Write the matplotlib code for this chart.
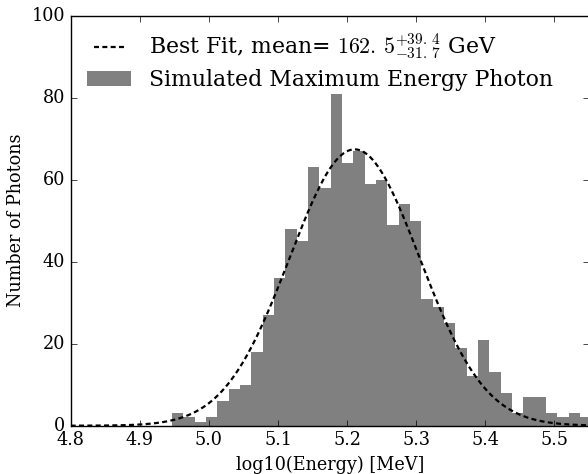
import matplotlib
matplotlib.use("Agg")
import matplotlib.pyplot as plt
import numpy as np

# histogram of the simulated maximum energy photon (log10 of energy in MeV)
bin_start = 4.9466
bin_width = 0.0164
counts = [3, 2, 1, 2, 6, 9, 10, 18, 27, 36, 48, 45, 63, 58, 81, 64, 67, 59,
          60, 49, 54, 50, 31, 29, 25, 19, 12, 21, 13, 8, 3, 7, 7, 3, 2, 3, 2]

# gaussian best fit (log10 MeV)
fit_mean = 5.2109
fit_sigma = 0.0942
fit_amp = 67.4

plt.style.use('classic')
plt.rcParams['font.family'] = 'serif'
plt.rcParams['font.serif'] = ['DejaVu Serif']
plt.rcParams['mathtext.fontset'] = 'cm'
plt.rcParams['font.size'] = 12.7

fig = plt.figure(figsize=(5.88, 4.74), dpi=100)
ax = fig.add_axes([0.1202, 0.1019, 0.8815, 0.865])

edges = bin_start + bin_width * np.arange(len(counts) + 1)
hist = ax.hist(edges[:-1], bins=edges, weights=counts, histtype='stepfilled',
               color='gray', edgecolor='none',
               label='Simulated Maximum Energy Photon')

x = np.linspace(4.8, 5.55, 500)
y = fit_amp * np.exp(-0.5 * ((x - fit_mean) / fit_sigma) ** 2)
fit_line, = ax.plot(x, y, color='black', lw=1.6, dashes=(3.6, 2.4),
                    label=r'Best Fit, mean= $162.\,5^{+39.\,4}_{-31.\,7}$ GeV')

ax.set_xlim(4.8, 5.55)
ax.set_ylim(0, 100)
ax.set_xticks(np.arange(4.8, 5.51, 0.1))
ax.set_yticks([0, 20, 40, 60, 80, 100])
ax.set_xlabel('log10(Energy) [MeV]')
ax.set_ylabel('Number of Photons')

handles, labels = ax.get_legend_handles_labels()
ax.legend(handles[::-1], labels[::-1], loc='upper left', frameon=False,
          fontsize=15.8, labelspacing=0.32, borderaxespad=0.35)

fig.savefig('out.png', dpi=100)
